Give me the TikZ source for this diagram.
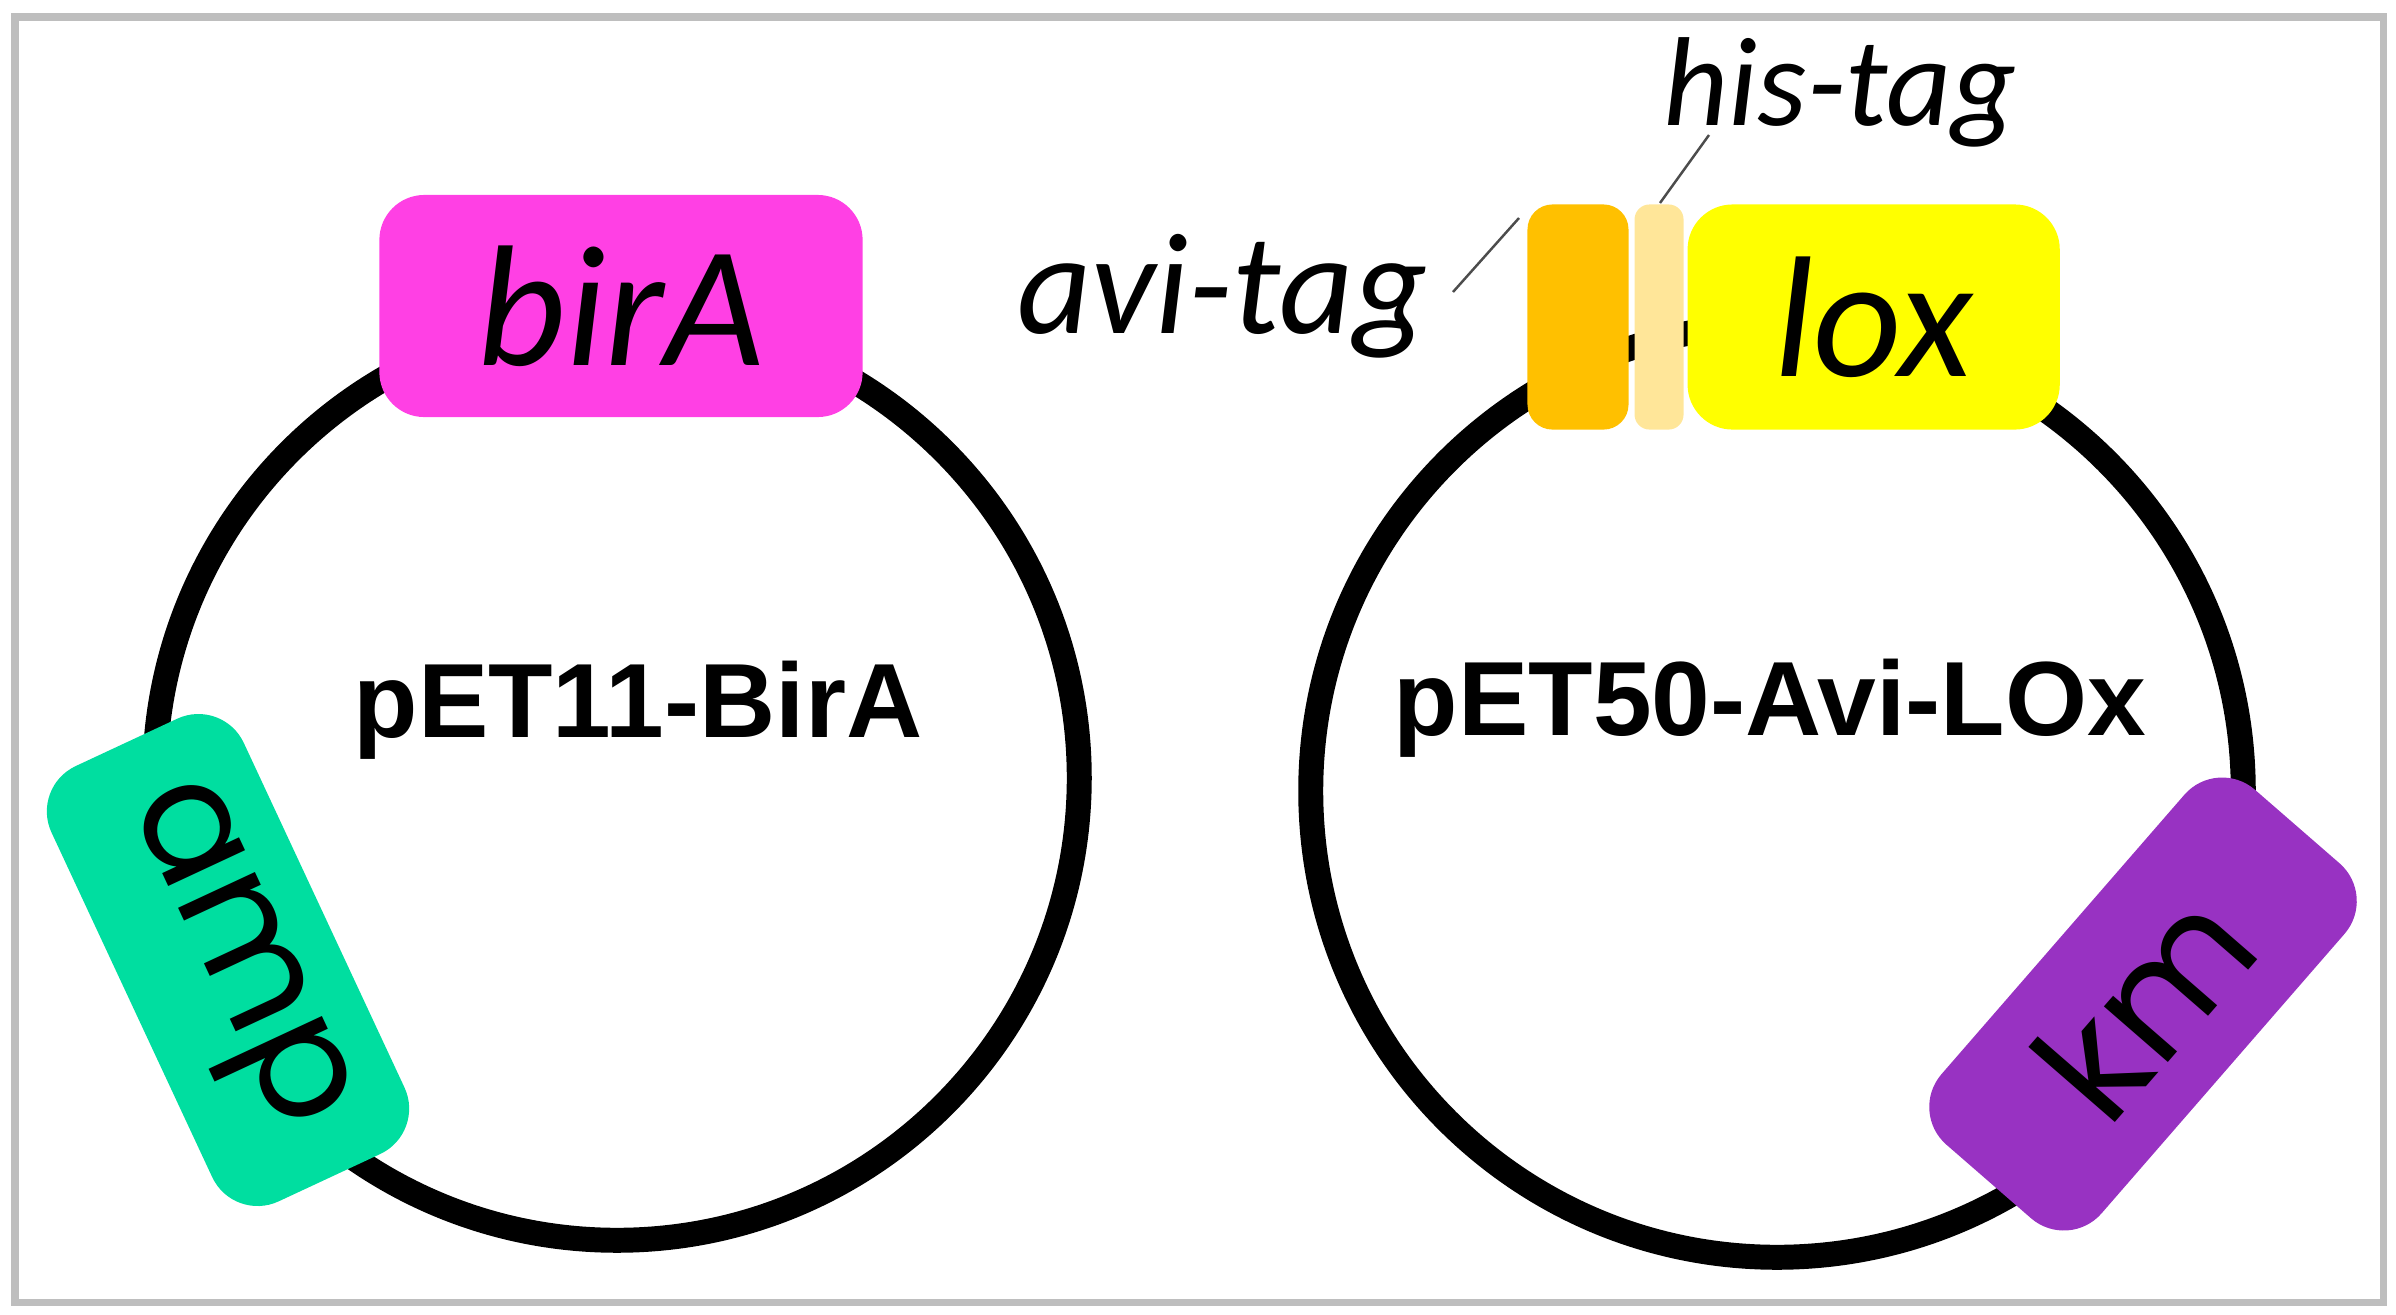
\documentclass[tikz,border=0pt]{standalone}
\usepackage{fontspec}
\setmainfont{Carlito}
\newfontfamily\vectorfont{Liberation Sans}
\newfontfamily\markerfont{Poppins}
\usepackage{tikz}
\usetikzlibrary{positioning}
\usepackage{xcolor}
\definecolor{birMagenta}{RGB}{255, 64, 228}
\definecolor{ampGreen}{RGB}{0, 222, 160}
\definecolor{kmPurple}{RGB}{152, 50, 194}
\definecolor{aviOrange}{RGB}{255, 192, 0}
\definecolor{hisCream}{RGB}{255, 230, 153}
\definecolor{loxYellow}{RGB}{255, 255, 0}
\definecolor{frameGray}{RGB}{190, 190, 190}

\begin{document}
\begin{tikzpicture}
    [
        x=0.01cm, y=-0.01cm,
        backbone/.style={
            draw, circle, line width=7.1pt, inner sep=0pt
        },
        gene/.style={
            rectangle, inner sep=0pt, outer sep=0pt,
            minimum height=2.25cm, rounded corners=0.45cm
        },
        genename/.style={font=\itshape\fontsize{49}{49}\selectfont},
        marker/.style={
            gene, minimum height=2.12cm, rounded corners=0.5cm,
            font=\markerfont\fontsize{44}{44}\selectfont
        },
        vectorname/.style={font=\vectorfont\bfseries\fontsize{30}{30}\selectfont},
        taglabel/.style={
            inner sep=0pt, font=\itshape\fontsize{41}{41}\selectfont
        },
        leader/.style={draw=black!70, line width=0.7pt}
    ]

\useasboundingbox (0,0) rectangle (2396,1314);
\draw[frameGray, line width=2pt] (15,17) rectangle (2383,1302);

% Backbones
\node (pbir) [backbone, minimum size=9.24cm] at (617,778) {};
\node (plox) [backbone, minimum size=9.32cm] at (1777,791) {};

% Genes
\node (birA) [
        gene, genename, fill=birMagenta,
        minimum width=4.83cm, minimum height=2.22cm,
    ] at (621,306) {birA\hspace{0.3cm}};

\node (avi) [
        gene, fill=aviOrange, minimum width=1.01cm, rounded corners=0.25cm,
    ] at (1578,317) {};

\node (his) [
        gene, fill=hisCream, minimum width=0.49cm, rounded corners=0.15cm,
        right=0.06cm of avi,
    ] {};

\node (lox) [
        gene, genename, fill=loxYellow, minimum width=3.72cm,
        right=0.04cm of his,
    ] {lox};

% Resistance markers
\node (amp) [
        marker, fill=ampGreen, minimum width=4.8cm, rotate=-65,
    ] at (228,960) {amp};

\node (km) [
        marker, fill=kmPurple, minimum width=4.7cm, rotate=49,
    ] at (2143,1004) {km};

% Labels
\node (pet11) [vectorname, anchor=base] at (638,737) {pET11-BirA};
\node (pet50) [vectorname, anchor=base] at (1770,735) {pET50-Avi-LOx};

\node (avitag) [taglabel, anchor=base east] at (1428,333) {avi-tag};
\node (histag) [
        taglabel, anchor=base west,
        font=\itshape\fontsize{36}{36}\selectfont,
    ] at (1663,125) {his-tag};

\coordinate (avi-foot) at (1453,292);
\coordinate (avi-tip) at (1519,218);
\coordinate (his-foot) at (1660,203);
\coordinate (his-tip) at (1709,135);
\draw[leader] (avi-foot) -- (avi-tip);
\draw[leader] (his-foot) -- (his-tip);

\end{tikzpicture}
\end{document}
